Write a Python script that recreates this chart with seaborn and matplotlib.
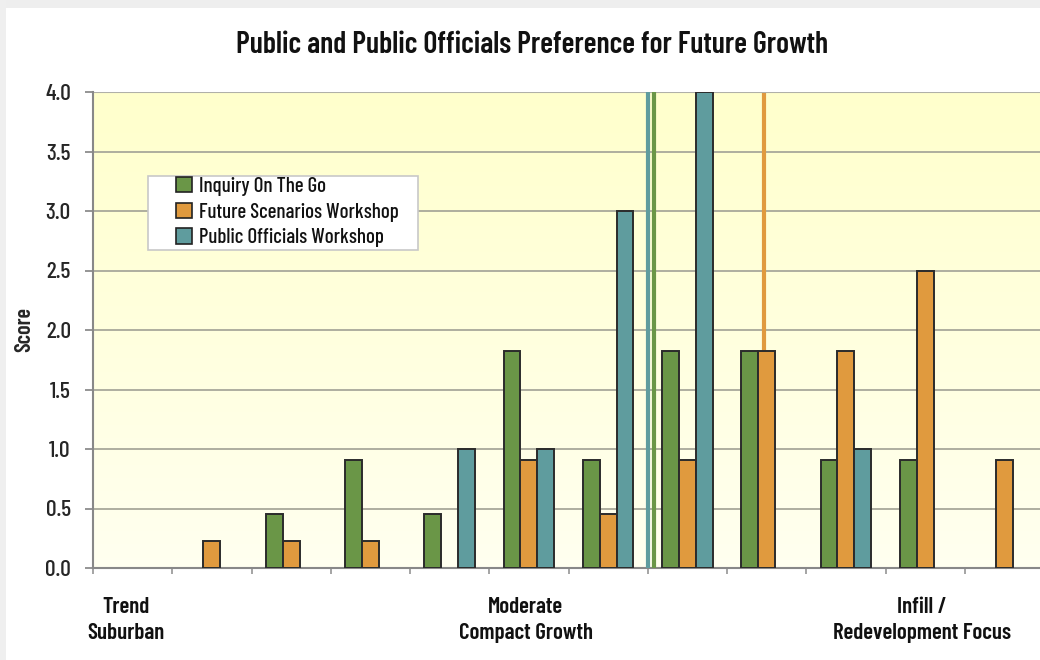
import numpy as np
import pandas as pd
import matplotlib
matplotlib.use("Agg")
import matplotlib.pyplot as plt
from matplotlib import font_manager
from matplotlib.patches import Rectangle
import seaborn as sns

# Survey scores per growth scenario (12 scenarios, left = Trend Suburban, right = Infill)
scenarios = [f"S{i}" for i in range(1, 13)]
inquiry = [np.nan, np.nan, 0.45, 0.91, 0.45, 1.82, 0.91, 1.82, 1.82, 0.91, 0.91, np.nan]
future = [np.nan, 0.23, 0.23, 0.23, np.nan, 0.91, 0.45, 0.91, 1.82, 1.82, 2.5, 0.91]
officials = [np.nan, np.nan, np.nan, np.nan, 1.0, 1.0, 3.0, 4.0, np.nan, 1.0, np.nan, np.nan]

series_names = ["Inquiry On The Go", "Future Scenarios Workshop", "Public Officials Workshop"]
series_colors = ["#6A9647", "#E09A3E", "#5F9C9E"]
yticks = [0.0, 0.5, 1.0, 1.5, 2.0, 2.5, 3.0, 3.5, 4.0]
axis_labels = ["Trend\nSuburban", "Moderate\nCompact Growth", "Infill /\nRedevelopment Focus"]
axis_label_pos = [-0.08, 4.96, 9.96]

rows = []
for name, vals in zip(series_names, [inquiry, future, officials]):
    for s, v in zip(scenarios, vals):
        rows.append({"scenario": s, "series": name, "score": v})
df = pd.DataFrame(rows).dropna()

sns.set_theme(style="white")
available = {f.name for f in font_manager.fontManager.ttflist}
if "Barlow Condensed" in available:
    base_font = ["Barlow Condensed", "DejaVu Sans"]
    stretch = "normal"
    scale = 1.0
else:
    base_font = ["DejaVu Sans"]
    stretch = "condensed"
    scale = 0.78
plt.rcParams["font.family"] = base_font
plt.rcParams["font.stretch"] = stretch
plt.rcParams["text.color"] = "#111111"

fig = plt.figure(figsize=(10.4, 6.6), dpi=100)
fig.patch.set_facecolor("white")

# light grey window edge along the top and left
fig.patches.append(Rectangle((0, 1 - 8 / 660), 1, 8 / 660, transform=fig.transFigure,
                             facecolor="#eeeeee", edgecolor="none", zorder=0))
fig.patches.append(Rectangle((0, 0), 6 / 1040, 1, transform=fig.transFigure,
                             facecolor="#efefef", edgecolor="none", zorder=0))

ax = fig.add_axes([93 / 1040, 92 / 660, 951 / 1040, 476 / 660])

# soft yellow gradient behind the plot
grad = np.linspace(0, 1, 256).reshape(-1, 1)
top = np.array([1.0, 1.0, 0.80])
bottom = np.array([1.0, 1.0, 0.94])
img = top * (1 - grad[..., None]) + bottom * grad[..., None]
img = img.reshape(256, 1, 3)
ax.imshow(img, extent=[0, 1, 0, 1], transform=ax.transAxes, aspect="auto", zorder=0)

sns.barplot(data=df, x="scenario", y="score", hue="series", order=scenarios,
            hue_order=series_names, palette=series_colors, width=0.64,
            edgecolor="#2b2b2b", linewidth=1.4, saturation=1, ax=ax, zorder=3)

# thin accent strokes
ax.vlines(6.5, 0, 4.0, color=series_colors[2], lw=3, zorder=4)
ax.vlines(6.585, 0, 4.0, color=series_colors[0], lw=3, zorder=4)
ax.vlines(7.97, future[8], 4.0, color=series_colors[1], lw=3, zorder=2)

ax.set_xlim(-0.5, len(scenarios) - 0.5)
ax.set_ylim(0, 4.0)
ax.set_yticks(yticks)
ax.set_yticklabels([f"{t:.1f}" for t in yticks], fontsize=17 * scale, fontweight=500)
ax.yaxis.grid(True, color="#a8a89a", lw=1.3, zorder=1)
for gl in ax.get_ygridlines():
    gl.set_zorder(1)
ax.tick_params(axis="y", length=6, color="#888888", pad=10, left=True)
ax.set_xticks(np.arange(-0.5, len(scenarios), 1.0))
ax.set_xticklabels([])
ax.tick_params(axis="x", length=4, color="#999999", bottom=True)
ax.set_xlabel("")
ax.set_ylabel("Score", fontsize=16 * scale, fontweight=600, labelpad=8)

for sp in ["top", "right"]:
    ax.spines[sp].set_visible(False)
for sp in ["left", "bottom"]:
    ax.spines[sp].set_color("#888888")
    ax.spines[sp].set_linewidth(1.5)
ax.axhline(4.0, color="#b0b0a8", lw=1.5, zorder=2)

for lab, pos in zip(axis_labels, axis_label_pos):
    ax.text(pos, -0.24, lab, ha="center", va="top", fontsize=16.5 * scale, fontweight=600,
            linespacing=1.42, transform=ax.transData, clip_on=False)

fig.text(0.512, 0.932, "Public and Public Officials Preference for Future Growth",
         ha="center", va="center", fontsize=21.5 * scale, fontweight=600)

# legend box with a wide margin, entries drawn inside it without their own frame
ax.add_patch(Rectangle(((148 - 93) / 951, (568 - 250) / 476), 270 / 951, 74 / 476,
                       transform=ax.transAxes, facecolor="white", edgecolor="#c8c8c8",
                       lw=1.2, zorder=5))
leg = ax.legend(loc="upper left", bbox_to_anchor=((176 - 93) / 951, (568 - 177) / 476),
                frameon=False, prop={"size": 15 * scale, "weight": 500},
                handlelength=0.75, handleheight=0.75,
                handletextpad=0.35, labelspacing=0.32, borderpad=0.0, borderaxespad=0)
leg.set_zorder(6)
for h in leg.legend_handles:
    h.set_edgecolor("#222222")
    h.set_linewidth(1.2)

fig.savefig("out.png", dpi=100)
